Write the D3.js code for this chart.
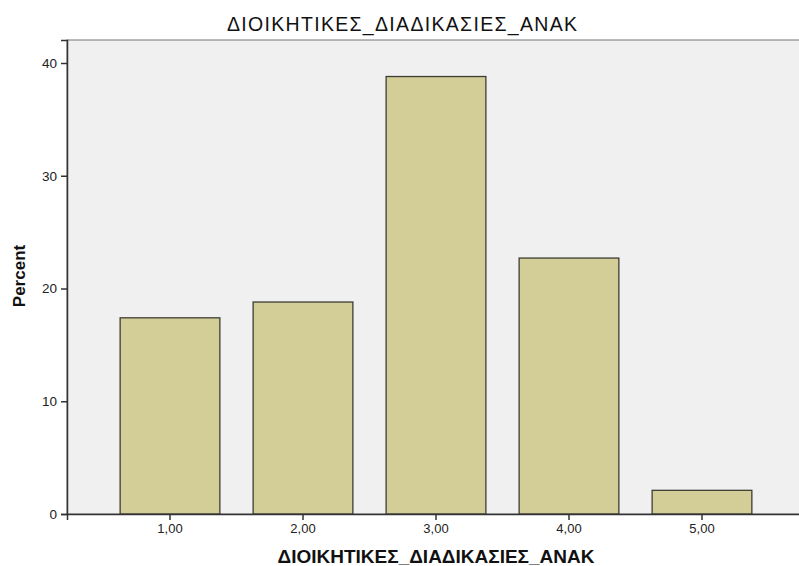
<!DOCTYPE html>
<html><head><meta charset="utf-8">
<script src="https://cdn.jsdelivr.net/npm/d3@7"></script>
<style>body{margin:0;background:#fff}svg{display:block;font-family:"Liberation Sans",Arial,sans-serif}</style>
</head><body>
<script>
const categories = ["1,00","2,00","3,00","4,00","5,00"];
const percents = [17.4, 18.8, 38.8, 22.7, 2.1];
const yTicks = [0, 10, 20, 30, 40];
const title = "ΔΙΟΙΚΗΤΙΚΕΣ_ΔΙΑΔΙΚΑΣΙΕΣ_ΑΝΑΚ";
const xTitle = "ΔΙΟΙΚΗΤΙΚΕΣ_ΔΙΑΔΙΚΑΣΙΕΣ_ΑΝΑΚ";
const yTitle = "Percent";

const W = 799, H = 566;
const L = 67, T = 40, R = 805, B = 514;
const svg = d3.select("body").append("svg").attr("width", W).attr("height", H);

const x = d3.scaleBand().domain(categories).range([L, R]).paddingInner(0.25).paddingOuter(0.3995);
const y = d3.scaleLinear().domain([0, 42.04]).range([B, T]);

svg.append("rect").attr("x", L).attr("y", T).attr("width", R - L).attr("height", B - T)
  .attr("fill", "#f0f0f0").attr("stroke", "#777").attr("stroke-width", 1);

svg.selectAll("rect.bar").data(percents).join("rect").attr("class", "bar")
  .attr("x", (d, i) => x(categories[i]))
  .attr("y", d => y(d))
  .attr("width", x.bandwidth())
  .attr("height", d => B - y(d))
  .attr("fill", "#d3ce97").attr("stroke", "#3d3d35").attr("stroke-width", 1.3);

const ya = svg.append("g").attr("transform", `translate(${L},0)`)
  .call(d3.axisLeft(y).tickValues(yTicks).tickSize(6).tickPadding(4));
ya.select(".domain").attr("stroke", "#333").attr("stroke-width", 1.5);
ya.selectAll(".tick line").attr("stroke", "#333").attr("stroke-width", 1.5);
ya.selectAll(".tick text").attr("font-size", 13.5).attr("fill", "#222").attr("font-family", "Liberation Sans, Arial, sans-serif");

const xa = svg.append("g").attr("transform", `translate(0,${B})`)
  .call(d3.axisBottom(x).tickSize(6).tickPadding(4));
xa.select(".domain").attr("stroke", "#333").attr("stroke-width", 1.5);
xa.selectAll(".tick line").attr("stroke", "#333").attr("stroke-width", 1.5);
xa.selectAll(".tick text").attr("font-size", 13).attr("fill", "#222").attr("font-family", "Liberation Sans, Arial, sans-serif");

svg.append("text").attr("x", 402).attr("y", 31).attr("text-anchor", "middle")
  .attr("font-size", 19.5).attr("fill", "#111")
  .attr("textLength", 350).attr("lengthAdjust", "spacing").text(title);
svg.append("text").attr("x", 436).attr("y", 563).attr("text-anchor", "middle")
  .attr("font-size", 19).attr("font-weight", "bold").attr("fill", "#111")
  .attr("textLength", 317).attr("lengthAdjust", "spacing").text(xTitle);
svg.append("text").attr("transform", "translate(24.5,276) rotate(-90)").attr("text-anchor", "middle")
  .attr("font-size", 17).attr("font-weight", "bold").attr("fill", "#111").text(yTitle);
</script>
</body></html>
